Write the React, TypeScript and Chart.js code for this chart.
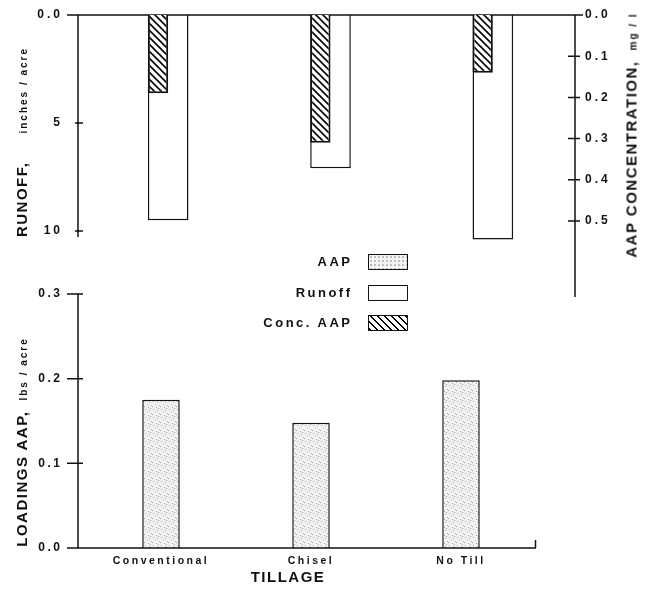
import { useEffect, useRef } from 'react';
import { Chart, registerables } from 'chart.js';

Chart.register(...registerables);

// ---------- data ----------
const tillage = ['Conventional', 'Chisel', 'No Till'];
const runoff = [9.5, 7.1, 10.4]; // inches / acre
const concAAP = [0.19, 0.31, 0.14]; // mg / l
const loadingsAAP = [0.175, 0.148, 0.198]; // lbs / acre
const runoffTicks = [0, 5, 10];
const concTicks = [0, 0.1, 0.2, 0.3, 0.4, 0.5];
const loadTicks = [0, 0.1, 0.2, 0.3];
const legendLabels = ['AAP', 'Runoff', 'Conc. AAP'];

const FONT = '"Liberation Sans", Arial, Helvetica, sans-serif';
const INK = '#111';
const AXIS_GAP = 9; // drawn axis line sits a little left of the first category slot

function hatchPattern(ctx: CanvasRenderingContext2D) {
  const s = 7;
  const c = document.createElement('canvas');
  c.width = s;
  c.height = s;
  const g = c.getContext('2d')!;
  g.fillStyle = '#fff';
  g.fillRect(0, 0, s, s);
  g.strokeStyle = '#000';
  g.lineWidth = 1.6;
  g.beginPath();
  g.moveTo(-1, -1); g.lineTo(s + 1, s + 1);
  g.moveTo(-1, s - 1); g.lineTo(1, s + 1);
  g.moveTo(s - 1, -1); g.lineTo(s + 1, 1);
  g.stroke();
  return ctx.createPattern(c, 'repeat')!;
}

function stipplePattern(ctx: CanvasRenderingContext2D) {
  const s = 8;
  const c = document.createElement('canvas');
  c.width = s;
  c.height = s;
  const g = c.getContext('2d')!;
  g.fillStyle = '#f3f3f3';
  g.fillRect(0, 0, s, s);
  g.fillStyle = '#a9a9a9';
  [[1, 1], [5, 2], [3, 4], [7, 5], [0, 6], [4, 7], [6, 0]].forEach(([x, y]) => g.fillRect(x, y, 1, 1));
  return ctx.createPattern(c, 'repeat')!;
}

const tickFont = { family: FONT, size: 12, weight: 'bold' as const };

const fixedTicks = (vals: number[]) => (s: any) => {
  s.ticks = vals.map((v) => ({ value: v }));
};
const fixWidth = (w: number) => (s: any) => {
  s.width = w;
  s.paddingTop = 0;
  s.paddingBottom = 0;
};

export default function App() {
  const runRef = useRef<HTMLCanvasElement>(null);
  const concRef = useRef<HTMLCanvasElement>(null);
  const botRef = useRef<HTMLCanvasElement>(null);

  useEffect(() => {
    const cctx = concRef.current!.getContext('2d')!;
    const bctx = botRef.current!.getContext('2d')!;

    const spacing = (px: string) => ({
      id: 'spacing',
      beforeDraw(chart: any) {
        chart.ctx.letterSpacing = px;
      },
    });

    // left axis + top line of upper panel
    const runAxes = {
      id: 'runAxes',
      afterDatasetsDraw(chart: any) {
        const { ctx, chartArea: a, scales } = chart;
        const y = scales.y;
        const ax = a.left - AXIS_GAP;
        ctx.save();
        ctx.strokeStyle = INK;
        ctx.lineWidth = 1.5;
        ctx.beginPath();
        ctx.moveTo(ax - 11, a.top);
        ctx.lineTo(a.right + 9, a.top);
        ctx.moveTo(ax, a.top);
        ctx.lineTo(ax, y.getPixelForValue(runoffTicks[runoffTicks.length - 1]) + 6);
        runoffTicks.slice(1).forEach((v) => {
          const p = y.getPixelForValue(v);
          ctx.moveTo(ax - 3, p);
          ctx.lineTo(ax + 5, p);
        });
        ctx.stroke();
        ctx.restore();
      },
    };

    // right axis of upper panel
    const concAxes = {
      id: 'concAxes',
      afterDatasetsDraw(chart: any) {
        const { ctx, chartArea: a, scales } = chart;
        const y = scales.y;
        const ax = a.right + 1;
        ctx.save();
        ctx.strokeStyle = INK;
        ctx.lineWidth = 1.5;
        ctx.beginPath();
        ctx.moveTo(ax, a.top);
        ctx.lineTo(ax, a.bottom);
        concTicks.slice(1).forEach((v) => {
          const p = y.getPixelForValue(v);
          ctx.moveTo(ax - 7, p);
          ctx.lineTo(ax + 5, p);
        });
        ctx.stroke();
        ctx.restore();
      },
    };

    const botAxes = {
      id: 'botAxes',
      afterDatasetsDraw(chart: any) {
        const { ctx, chartArea: a, scales } = chart;
        const y = scales.y;
        const ax = a.left - 8;
        ctx.save();
        ctx.strokeStyle = INK;
        ctx.lineWidth = 1.5;
        ctx.beginPath();
        ctx.moveTo(ax, a.top);
        ctx.lineTo(ax, a.bottom);
        loadTicks.slice(1).forEach((v) => {
          const p = y.getPixelForValue(v);
          ctx.moveTo(ax - 11, p);
          ctx.lineTo(ax + 5, p);
        });
        ctx.moveTo(ax - 11, a.bottom);
        ctx.lineTo(a.right, a.bottom);
        ctx.moveTo(a.right - 0.5, a.bottom);
        ctx.lineTo(a.right - 0.5, a.bottom - 8);
        ctx.stroke();
        ctx.restore();
      },
    };

    const common = {
      responsive: false,
      animation: false,
      plugins: { legend: { display: false }, tooltip: { enabled: false } },
    };

    // upper panel, runoff (left axis, reversed)
    const runChart = new Chart(runRef.current!, {
      type: 'bar',
      data: {
        labels: tillage,
        datasets: [
          {
            label: 'Runoff', data: runoff,
            backgroundColor: '#fff', borderColor: INK, borderWidth: 1.5,
            barPercentage: 0.25, categoryPercentage: 1,
          },
        ],
      },
      options: {
        ...common,
        layout: { padding: { top: 15, bottom: 13, left: 0, right: 76 } },
        scales: {
          x: { type: 'category', display: false, offset: true },
          y: {
            type: 'linear', position: 'left', reverse: true, min: 0, max: 13.06,
            afterBuildTicks: fixedTicks(runoffTicks),
            afterFit: fixWidth(87),
            grid: { display: false, drawTicks: false },
            border: { display: false },
            ticks: {
              padding: 24, color: INK, font: tickFont, autoSkip: false,
              callback: (v: any) => (v === 0 ? '0.0' : String(v)),
            },
          },
        },
      } as any,
      plugins: [spacing('3px'), runAxes],
    });

    // upper panel, AAP concentration (right axis, reversed), sits in left half of each runoff bar
    const concChart = new Chart(concRef.current!, {
      type: 'bar',
      data: {
        labels: tillage,
        datasets: [
          {
            label: 'Conc. AAP', data: concAAP,
            backgroundColor: hatchPattern(cctx), borderColor: INK, borderWidth: 2,
            barPercentage: 1, categoryPercentage: 0.25,
          },
          {
            label: '', data: tillage.map(() => null),
            backgroundColor: 'transparent', borderWidth: 0,
            barPercentage: 1, categoryPercentage: 0.25,
          },
        ],
      } as any,
      options: {
        ...common,
        layout: { padding: { top: 15, bottom: 13, left: 87, right: 0 } },
        scales: {
          x: { type: 'category', display: false, offset: true },
          y: {
            type: 'linear', position: 'right', reverse: true, min: 0, max: 0.6845,
            afterBuildTicks: fixedTicks(concTicks),
            afterFit: fixWidth(76),
            grid: { display: false, drawTicks: false },
            border: { display: false },
            ticks: {
              padding: 11, color: INK, font: tickFont, autoSkip: false,
              callback: (v: any) => Number(v).toFixed(1),
            },
          },
        },
      } as any,
      plugins: [spacing('3px'), concAxes],
    });

    // lower panel, AAP loadings
    const botChart = new Chart(botRef.current!, {
      type: 'bar',
      data: {
        labels: tillage,
        datasets: [
          {
            label: 'AAP', data: loadingsAAP,
            backgroundColor: stipplePattern(bctx), borderColor: INK, borderWidth: 1.5,
            barPercentage: 0.25, categoryPercentage: 1,
          },
        ],
      },
      options: {
        ...common,
        layout: { padding: { top: 14, bottom: 0, left: 0, right: 114 } },
        scales: {
          x: {
            type: 'category', offset: true,
            grid: { display: false, drawTicks: false },
            border: { display: false },
            afterFit: (s: any) => { s.height = 47; s.paddingLeft = 0; s.paddingRight = 0; },
            ticks: {
              padding: 7, color: INK, maxRotation: 0, autoSkip: false,
              font: { family: FONT, size: 10.5, weight: 'bold' },
            },
          },
          y: {
            type: 'linear', min: 0, max: 0.3,
            afterBuildTicks: fixedTicks(loadTicks),
            afterFit: fixWidth(86),
            grid: { display: false, drawTicks: false },
            border: { display: false },
            ticks: {
              padding: 23.5, color: INK, font: tickFont, autoSkip: false,
              callback: (v: any) => Number(v).toFixed(1),
            },
          },
        },
      } as any,
      plugins: [spacing('2.5px'), botAxes],
    });

    return () => {
      runChart.destroy();
      concChart.destroy();
      botChart.destroy();
    };
  }, []);

  const vTitle = (cx: number, cy: number, main: string, unit: string, gap: number) => (
    <div
      style={{
        position: 'absolute', left: cx, top: cy,
        transform: 'translate(-50%, -50%) rotate(-90deg)',
        display: 'flex', alignItems: 'baseline', whiteSpace: 'nowrap', lineHeight: 1,
        fontFamily: FONT, fontWeight: 700, color: INK,
      }}
    >
      <span style={{ fontSize: 15, letterSpacing: '1.5px' }}>{main}</span>
      <span style={{ fontSize: 10, letterSpacing: '2px', marginLeft: gap }}>{unit}</span>
    </div>
  );

  const swatch = [
    {
      backgroundColor: '#f3f3f3',
      backgroundImage: 'radial-gradient(#a0a0a0 0.6px, transparent 0.9px)',
      backgroundSize: '4px 4px',
    },
    { backgroundColor: '#fff' },
    {
      backgroundImage: 'repeating-linear-gradient(45deg, #000 0 1.6px, #fff 1.6px 5px)',
    },
  ];

  const canvasStyle = (top: number) => ({ position: 'absolute' as const, left: 0, top });

  return (
    <div
      style={{
        position: 'fixed', left: 0, top: 0, width: 650, height: 595,
        background: '#fff', overflow: 'hidden', fontFamily: FONT, color: INK,
      }}
    >
      <canvas ref={runRef} width={650} height={310} style={canvasStyle(0)} />
      <canvas ref={concRef} width={650} height={310} style={canvasStyle(0)} />
      <canvas ref={botRef} width={650} height={315} style={canvasStyle(280)} />

      {vTitle(21, 142, 'RUNOFF,', 'inches / acre', 28)}
      {vTitle(631, 135, 'AAP CONCENTRATION,', 'mg / l', 10)}
      {vTitle(21, 442, 'LOADINGS AAP,', 'lbs / acre', 10)}

      <div
        style={{
          position: 'absolute', left: 230, top: 569, width: 116, textAlign: 'center',
          fontSize: 15, fontWeight: 700, letterSpacing: '1.5px', lineHeight: '16px',
        }}
      >
        TILLAGE
      </div>

      {legendLabels.map((lab, i) => (
        <div key={lab}>
          <div
            style={{
              position: 'absolute', left: 200, width: 152.5, top: 254 + i * 30.5, height: 16,
              lineHeight: '16px', textAlign: 'right', fontSize: 13, fontWeight: 700,
              letterSpacing: '2.5px', whiteSpace: 'nowrap',
            }}
          >
            {lab}
          </div>
          <div
            style={{
              position: 'absolute', left: 368, top: 254 + i * 30.5, width: 40, height: 16,
              boxSizing: 'border-box', border: `1.5px solid ${INK}`, ...swatch[i],
            }}
          />
        </div>
      ))}
    </div>
  );
}
